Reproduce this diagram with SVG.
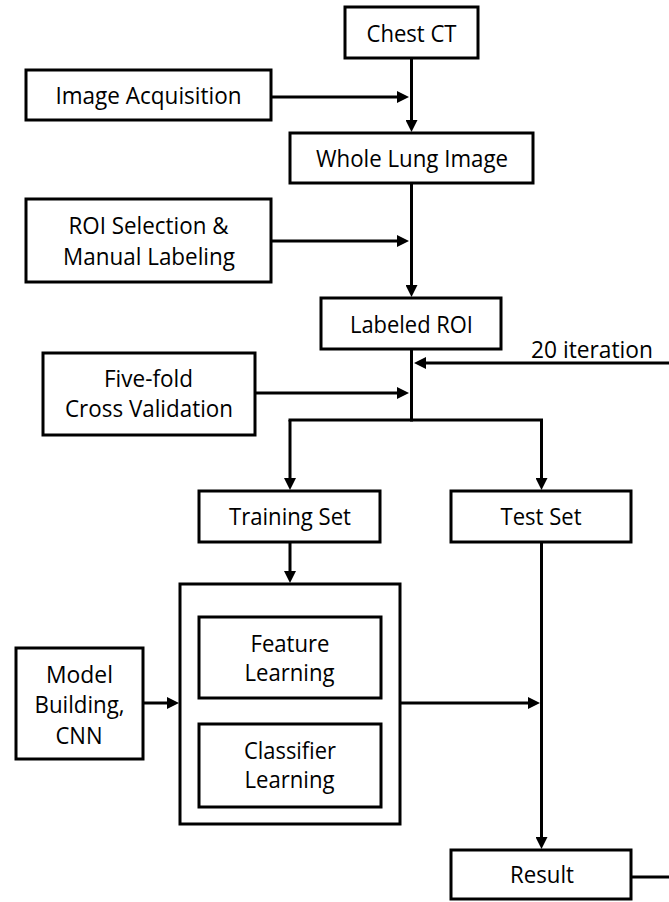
<svg xmlns="http://www.w3.org/2000/svg" width="669" height="902" viewBox="0 0 669 902">
<style>
.box{fill:#fff;stroke:#000;stroke-width:3}
.ln{fill:none;stroke:#000;stroke-width:3}
.t{font-family:"Open Sans","Noto Sans",sans-serif;font-size:23px;fill:#000;text-anchor:middle}
</style>
<defs>
<marker id="ah" viewBox="0 0 10 10" refX="0" refY="5" markerWidth="13" markerHeight="12" markerUnits="userSpaceOnUse" orient="auto">
<path d="M0,0 L10,5 L0,10 z" fill="#000"/>
</marker>
</defs>
<rect width="669" height="902" fill="#fff"/>
<g id="connectors">
<line class="ln" x1="411.5" y1="58" x2="411.5" y2="120" marker-end="url(#ah)"/>
<line class="ln" x1="271" y1="97" x2="397" y2="97" marker-end="url(#ah)"/>
<line class="ln" x1="411.5" y1="183" x2="411.5" y2="285" marker-end="url(#ah)"/>
<line class="ln" x1="271" y1="241" x2="397" y2="241" marker-end="url(#ah)"/>
<line class="ln" x1="411.5" y1="349" x2="411.5" y2="421.5"/>
<line class="ln" x1="669" y1="363" x2="426" y2="363" marker-end="url(#ah)"/>
<line class="ln" x1="255" y1="393" x2="397" y2="393" marker-end="url(#ah)"/>
<line class="ln" x1="288.5" y1="420" x2="543" y2="420"/>
<line class="ln" x1="290" y1="420" x2="290" y2="478" marker-end="url(#ah)"/>
<line class="ln" x1="541.5" y1="420" x2="541.5" y2="478" marker-end="url(#ah)"/>
<line class="ln" x1="290" y1="542" x2="290" y2="571" marker-end="url(#ah)"/>
<line class="ln" x1="143" y1="703" x2="167" y2="703" marker-end="url(#ah)"/>
<line class="ln" x1="400" y1="703" x2="528" y2="703" marker-end="url(#ah)"/>
<line class="ln" x1="541.5" y1="542" x2="541.5" y2="837" marker-end="url(#ah)"/>
<line class="ln" x1="631" y1="877" x2="669" y2="877"/>
</g>
<g id="chest-ct"><rect class="box" x="345" y="7" width="133" height="51"/><text class="t" x="411.5" y="41.5" textLength="90" lengthAdjust="spacingAndGlyphs">Chest CT</text></g>
<g id="image-acquisition"><rect class="box" x="26" y="70" width="245" height="50"/><text class="t" x="148.5" y="104" textLength="186" lengthAdjust="spacingAndGlyphs">Image Acquisition</text></g>
<g id="whole-lung"><rect class="box" x="290" y="133" width="243" height="50"/><text class="t" x="412" y="167" textLength="192" lengthAdjust="spacingAndGlyphs">Whole Lung Image</text></g>
<g id="roi-selection"><rect class="box" x="26" y="199" width="245" height="83"/><text class="t" x="148.5" y="234" textLength="160" lengthAdjust="spacingAndGlyphs">ROI Selection &amp;</text><text class="t" x="149" y="265" textLength="172" lengthAdjust="spacingAndGlyphs">Manual Labeling</text></g>
<g id="labeled-roi"><rect class="box" x="321" y="298" width="180" height="51"/><text class="t" x="411.5" y="333" textLength="123" lengthAdjust="spacingAndGlyphs">Labeled ROI</text></g>
<g id="iteration-label"><text class="t" x="592" y="358" textLength="122" lengthAdjust="spacingAndGlyphs">20 iteration</text></g>
<g id="five-fold"><rect class="box" x="43" y="353" width="212" height="82"/><text class="t" x="148.5" y="387" textLength="89" lengthAdjust="spacingAndGlyphs">Five-fold</text><text class="t" x="149" y="417" textLength="168" lengthAdjust="spacingAndGlyphs">Cross Validation</text></g>
<g id="training-set"><rect class="box" x="199" y="491" width="181" height="51"/><text class="t" x="290" y="525" textLength="122" lengthAdjust="spacingAndGlyphs">Training Set</text></g>
<g id="test-set"><rect class="box" x="451" y="491" width="180" height="51"/><text class="t" x="541" y="525" textLength="81" lengthAdjust="spacingAndGlyphs">Test Set</text></g>
<g id="cnn-block"><rect class="box" x="180" y="584" width="220" height="240"/></g>
<g id="feature-learning"><rect class="box" x="199" y="617" width="182" height="81"/><text class="t" x="290" y="652" textLength="79" lengthAdjust="spacingAndGlyphs">Feature</text><text class="t" x="289.5" y="681" textLength="90" lengthAdjust="spacingAndGlyphs">Learning</text></g>
<g id="classifier-learning"><rect class="box" x="199" y="724" width="182" height="83"/><text class="t" x="290" y="759" textLength="92" lengthAdjust="spacingAndGlyphs">Classifier</text><text class="t" x="289.5" y="788" textLength="90" lengthAdjust="spacingAndGlyphs">Learning</text></g>
<g id="model-building"><rect class="box" x="16" y="648" width="127" height="111"/><text class="t" x="79.5" y="683" textLength="67" lengthAdjust="spacingAndGlyphs">Model</text><text class="t" x="79.5" y="713" textLength="90" lengthAdjust="spacingAndGlyphs">Building,</text><text class="t" x="79" y="744" textLength="47" lengthAdjust="spacingAndGlyphs">CNN</text></g>
<g id="result"><rect class="box" x="451" y="850" width="180" height="49"/><text class="t" x="542" y="883" textLength="64" lengthAdjust="spacingAndGlyphs">Result</text></g>
</svg>
